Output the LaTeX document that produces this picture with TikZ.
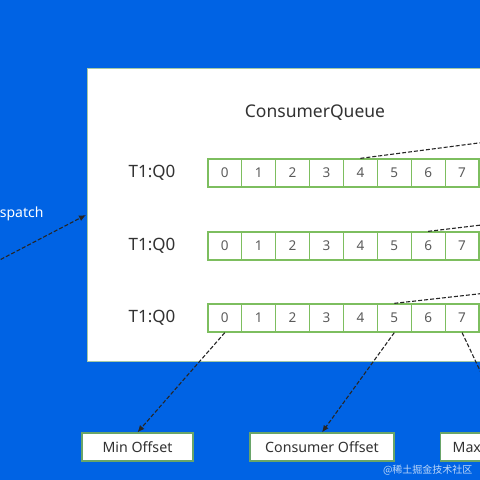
\documentclass[tikz,border=0pt]{standalone}
\usepackage{fontspec}
\setmainfont{Noto Sans}
\newfontfamily\cjk{Noto Sans CJK SC}
\usetikzlibrary{arrows.meta}
\definecolor{bgblue}{RGB}{0,99,228}
\definecolor{cellgreen}{RGB}{125,190,95}
\definecolor{boxgreen}{RGB}{105,165,105}
\definecolor{txt}{RGB}{50,50,50}
\tikzset{
  cellbox/.style={draw=cellgreen,line width=1.3pt,fill=white,minimum width=33.9pt,minimum height=28pt,inner sep=0pt,text=txt!80,font=\fontsize{13.5}{13.5}\selectfont},
  rowlabel/.style={text=txt,font=\fontsize{17}{17}\selectfont},
  offbox/.style={draw=boxgreen,line width=1.3pt,fill=white,minimum height=28pt,inner sep=0pt,text=txt,font=\fontsize{14.2}{14.2}\selectfont},
  dline/.style={dashed,dash pattern=on 4pt off 2pt,line width=1.1pt,draw=black!85},
  darrow/.style={dline,-{Latex[length=7pt,width=6pt]}},
}
\begin{document}
\begin{tikzpicture}[x=1pt,y=-1pt]
\useasboundingbox (0,0) rectangle (480,480);
\clip (0,0) rectangle (480,480);
\fill[bgblue] (0,0) rectangle (480,480);
% panel
\node[draw=boxgreen!60,line width=1pt,fill=white,minimum width=420pt,minimum height=293pt,inner sep=0pt,anchor=north west] (panel) at (87,68) {};
\node[text=txt,font=\fontsize{17.5}{17.5}\selectfont] (title) at (315,113) {ConsumerQueue};
% rows
\foreach \r/\y in {1/173, 2/246, 3/318}{
  \node[rowlabel] (lab\r) at (152,\y) {T1:Q0};
  \foreach \c in {0,...,7}{
    \node[cellbox] (r\r c\c) at ({224.8+33.9*\c},\y) {\c};
  }
  \node[cellbox] (r\r c8) at ({224.8+33.9*8},\y) {};
}
% incoming dashed lines
\coordinate (e1) at (540,135);
\coordinate (e2) at (540,218);
\coordinate (e3) at (540,287);
\draw[dline] (r1c4.north) -- (e1);
\draw[dline] (r2c6.north) -- (e2);
\draw[dline] (r3c5.north) -- (e3);
% dispatch
\node[text=white,anchor=east,font=\fontsize{14}{14}\selectfont] (disp) at (47,214) {Dispatch};
\coordinate (ds) at (-10,265);
\coordinate (dt) at (86,215);
\draw[darrow] (ds) -- (dt);
% bottom boxes
\node[offbox,minimum width=111pt] (minoff) at (137.5,447) {Min Offset};
\node[offbox,minimum width=144pt] (consoff) at (322,447) {Consumer Offset};
\node[offbox,anchor=west,inner xsep=12pt] (maxoff) at (440,447) {Max Offset};
\draw[darrow] (r3c0.south) -- (minoff.north);
\draw[darrow] (r3c5.south) -- (consoff.north);
\coordinate (mx) at (509,432);
\draw[darrow] (r3c7.south) -- (mx);
% watermark
\node[text=white!75!bgblue,anchor=east,font=\cjk\fontsize{10}{10}\selectfont] (wm) at (476,470) {@稀土掘金技术社区};
\end{tikzpicture}
\end{document}
